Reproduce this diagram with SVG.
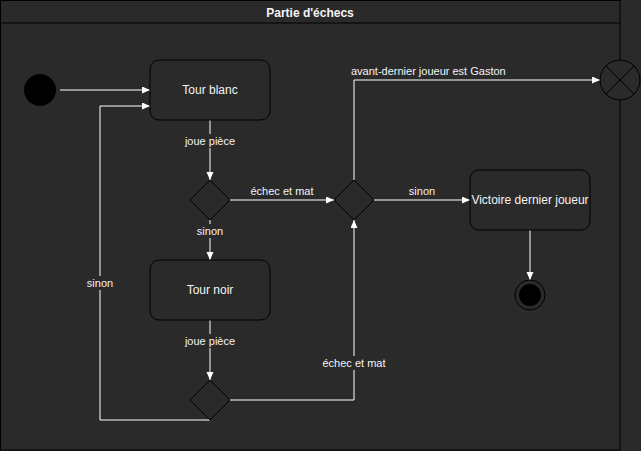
<svg xmlns="http://www.w3.org/2000/svg" width="641" height="451" viewBox="0 0 641 451">
  <defs>
    <marker id="arrow" markerUnits="userSpaceOnUse" markerWidth="9" markerHeight="8" refX="8" refY="3.5" orient="auto">
      <path d="M0,0 L8,3.5 L0,7 Z" fill="#ffffff"/>
    </marker>
    <style>
      .bg { fill: #2a2a2a; }
      .frame { fill: #2a2a2a; stroke: #000000; stroke-width: 1; }
      .state { fill: #2a2a2a; stroke: #000000; stroke-width: 1; }
      .dec { fill: #2a2a2a; stroke: #000000; stroke-width: 1; }
      .edge { fill: none; stroke: #ffffff; stroke-width: 1; marker-end: url(#arrow); }
      .lbl { font-family: "Liberation Sans", Arial, sans-serif; font-size: 11px; fill: #f4f4f4; text-anchor: middle; }
      .txt { font-family: "Liberation Sans", Arial, sans-serif; font-size: 12px; fill: #f4f4f4; text-anchor: middle; }
      .title { font-family: "Liberation Sans", Arial, sans-serif; font-size: 12px; font-weight: bold; fill: #f4f4f4; text-anchor: middle; }
      .lblbg { fill: #2a2a2a; }
    </style>
  </defs>
  <rect class="bg" x="0" y="0" width="641" height="451"/>

  <g id="frame">
    <rect class="frame" x="0.5" y="0.5" width="619.5" height="449.5"/>
    <line x1="0.5" y1="23" x2="620" y2="23" stroke="#000000" stroke-width="1"/>
    <text class="title" x="310" y="17">Partie d'échecs</text>
  </g>

  <g id="connectors">
    <path class="edge" d="M60,90 L150,90"/>
    <path class="edge" d="M210,120 L210,180"/>
    <path class="edge" d="M230,200 L334,200"/>
    <path class="edge" d="M210,220 L210,260"/>
    <path class="edge" d="M210,320 L210,380"/>
    <path class="edge" d="M210,420 L100,420 L100,106 L150,106"/>
    <path class="edge" d="M230,400 L354,400 L354,220"/>
    <path class="edge" d="M354,180 L354,80 L600,80"/>
    <path class="edge" d="M374,200 L470,200"/>
    <path class="edge" d="M530,230 L530,280"/>

    <rect class="lblbg" x="183" y="134" width="54" height="14"/>
    <text class="lbl" x="210" y="145">joue pièce</text>
    <text class="lbl" x="282" y="195">échec et mat</text>
    <rect class="lblbg" x="196" y="224" width="28" height="14"/>
    <text class="lbl" x="210" y="235">sinon</text>
    <rect class="lblbg" x="183" y="334" width="54" height="14"/>
    <text class="lbl" x="210" y="345">joue pièce</text>
    <rect class="lblbg" x="86" y="276" width="28" height="14"/>
    <text class="lbl" x="100" y="287">sinon</text>
    <rect class="lblbg" x="322" y="356" width="64" height="14"/>
    <text class="lbl" x="354" y="367">échec et mat</text>
    <text class="lbl" x="351" y="75" style="text-anchor:start">avant-dernier joueur est Gaston</text>
    <text class="lbl" x="422" y="195">sinon</text>
  </g>

  <g id="start">
    <circle cx="40" cy="90" r="16" fill="#000000"/>
  </g>

  <g id="tour-blanc">
    <rect class="state" x="150" y="60" width="120" height="60" rx="9" ry="9"/>
    <text class="txt" x="210" y="94">Tour blanc</text>
  </g>

  <g id="decision-1">
    <path class="dec" d="M210,180 L230,200 L210,220 L190,200 Z"/>
  </g>

  <g id="tour-noir">
    <rect class="state" x="150" y="260" width="120" height="60" rx="9" ry="9"/>
    <text class="txt" x="210" y="294">Tour noir</text>
  </g>

  <g id="decision-3">
    <path class="dec" d="M210,380 L230,400 L210,420 L190,400 Z"/>
  </g>

  <g id="decision-2">
    <path class="dec" d="M354,180 L374,200 L354,220 L334,200 Z"/>
  </g>

  <g id="victoire">
    <rect class="state" x="470" y="170" width="120" height="60" rx="9" ry="9"/>
    <text class="txt" x="530" y="204">Victoire dernier joueur</text>
  </g>

  <g id="final">
    <circle cx="530" cy="295" r="15" fill="#2a2a2a" stroke="#000000" stroke-width="1"/>
    <circle cx="530" cy="295" r="11" fill="#000000"/>
  </g>

  <g id="flow-final">
    <circle cx="620" cy="80" r="20" fill="#2a2a2a" stroke="#000000" stroke-width="1"/>
    <line x1="605.86" y1="65.86" x2="634.14" y2="94.14" stroke="#000000" stroke-width="1"/>
    <line x1="605.86" y1="94.14" x2="634.14" y2="65.86" stroke="#000000" stroke-width="1"/>
  </g>
</svg>
